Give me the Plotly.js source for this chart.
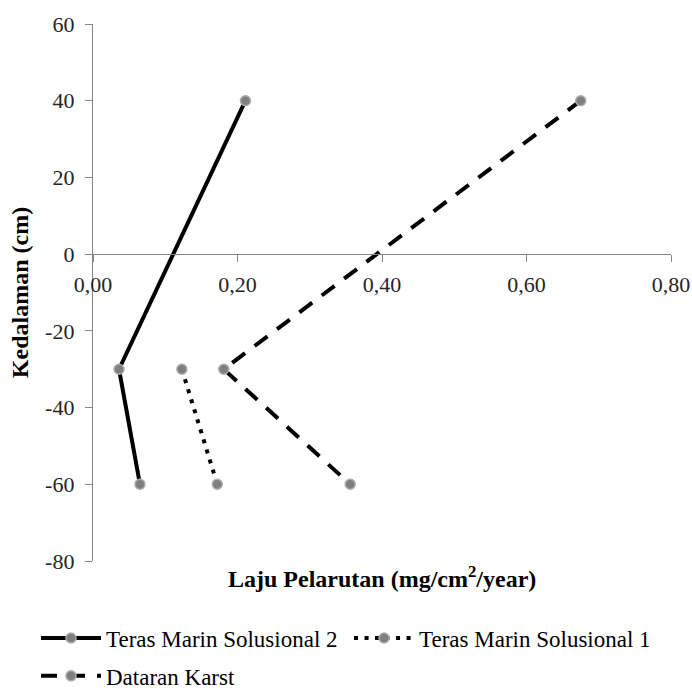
<!DOCTYPE html>
<html>
<head>
<meta charset="utf-8">
<script src="https://cdn.plot.ly/plotly-3.0.1.min.js"></script>
<style>html,body{margin:0;padding:0;background:#fff}#chart{width:692px;height:689px}</style>
</head>
<body>
<div id="chart"></div>
<script>
// Depth (cm)
const depthTMS2 = [40, -30, -60];
const depthTMS1 = [-30, -60];
const depthKarst = [40, -30, -60];
// Dissolution rate (mg/cm2/year)
const rateTMS2 = [0.211, 0.036, 0.065];
const rateTMS1 = [0.123, 0.172];
const rateKarst = [0.675, 0.181, 0.356];
const seriesNames = ['Teras Marin Solusional 2', 'Teras Marin Solusional 1', 'Dataran Karst'];
const xTickVals = [0, 0.2, 0.4, 0.6, 0.8];
const xTickText = ['0,00', '0,20', '0,40', '0,60', '0,80'];
const yTickVals = [60, 40, 20, 0, -20, -40, -60, -80];
const yTickText = ['60', '40', '20', '0', '-20', '-40', '-60', '-80'];
const xTitle = 'Laju Pelarutan (mg/cm<sup>2</sup>/year)';
const yTitle = 'Kedalaman (cm)';

const FONT = '"Liberation Serif", "DejaVu Serif", serif';
const marker = {size: 10, color: '#7f7f7f', line: {color: '#ababab', width: 1.5}};

const traces = [
  {x: rateTMS2, y: depthTMS2, name: seriesNames[0], mode: 'lines+markers',
   line: {color: '#000', width: 4}, marker: marker, legend: 'legend'},
  {x: rateTMS1, y: depthTMS1, name: seriesNames[1], mode: 'lines+markers',
   line: {color: '#000', width: 4, dash: '4px,6.5px'}, marker: marker, legend: 'legend2'},
  {x: rateKarst, y: depthKarst, name: seriesNames[2], mode: 'lines+markers',
   line: {color: '#000', width: 4, dash: '16px,12px'}, marker: marker, legend: 'legend3'}
];

const yMin = -80, yMax = 60;
const legendFont = {family: FONT, size: 23, color: '#000'};
const legendBase = {orientation: 'h', xanchor: 'left', yanchor: 'middle', font: legendFont,
  itemwidth: 60, bgcolor: 'rgba(0,0,0,0)'};
const layout = {
  width: 692, height: 689,
  margin: {l: 93, r: 21, t: 24, b: 128, autoexpand: false},
  paper_bgcolor: '#fff', plot_bgcolor: '#fff',
  font: {family: FONT, size: 22, color: '#262626'},
  showlegend: true,
  xaxis: {
    range: [0, 0.8], tickvals: xTickVals, ticktext: xTickText,
    anchor: 'free', position: (0 - yMin) / (yMax - yMin),
    showline: true, linecolor: '#868686', linewidth: 1.3,
    ticks: 'outside', ticklen: 7, tickcolor: '#868686', tickwidth: 1.3,
    showgrid: false, zeroline: false, ticklabelstandoff: 3,
    tickfont: {family: FONT, size: 22, color: '#262626'}
  },
  yaxis: {
    range: [yMin, yMax], tickvals: yTickVals, ticktext: yTickText,
    showline: true, linecolor: '#868686', linewidth: 1.3,
    ticks: 'outside', ticklen: 7, tickcolor: '#868686', tickwidth: 1.3,
    showgrid: false, zeroline: false, ticklabelstandoff: 6,
    tickfont: {family: FONT, size: 22, color: '#262626'},
    title: {text: '<b>' + yTitle + '</b>', font: {family: FONT, size: 24, color: '#000'}, standoff: 9}
  },
  annotations: [{
    text: '<b>' + xTitle + '</b>', xref: 'paper', yref: 'paper',
    x: 0.5, y: 0, xanchor: 'center', yanchor: 'top', yshift: 1,
    showarrow: false, font: {family: FONT, size: 24, color: '#000'}
  }],
  legend: Object.assign({}, legendBase, {x: -0.0986, y: -0.1434}),
  legend2: Object.assign({}, legendBase, {x: 0.443, y: -0.1434}),
  legend3: Object.assign({}, legendBase, {x: -0.0986, y: -0.214})
};

Plotly.newPlot('chart', traces, layout, {displayModeBar: false, responsive: false});
</script>
</body>
</html>
